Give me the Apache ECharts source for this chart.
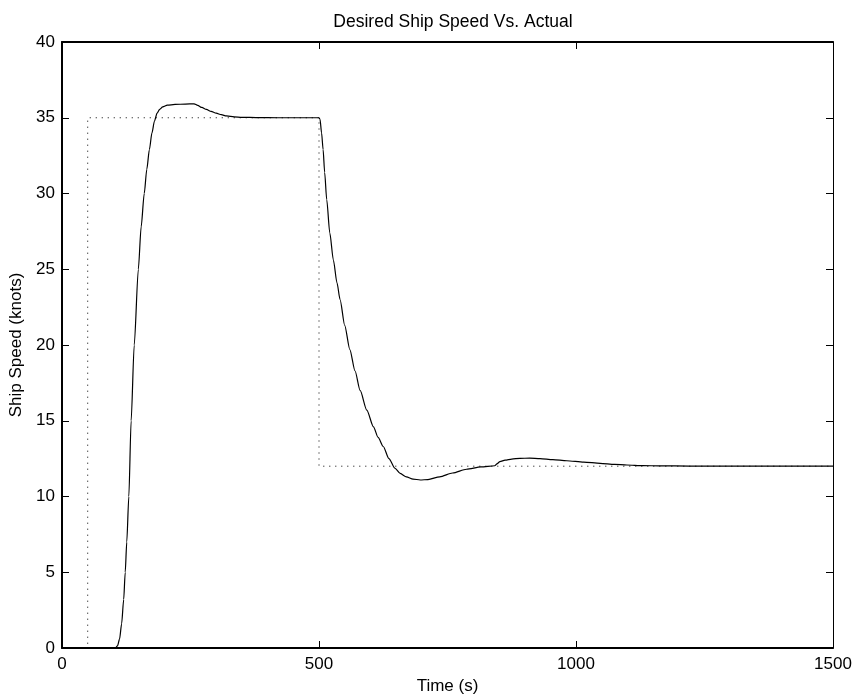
<!DOCTYPE html>
<html>
<head>
<meta charset="utf-8">
<title>Desired Ship Speed Vs. Actual</title>
<script src="https://cdn.jsdelivr.net/npm/echarts@6/dist/echarts.min.js"></script>
<style>
  html, body { margin: 0; padding: 0; background: #fff; }
  #chart { width: 856px; height: 700px; }
</style>
</head>
<body>
<div id="chart"></div>
<script>
// Commanded speed (step profile), seconds / knots
const desiredTime  = [0, 50, 50, 500, 500, 1500];
const desiredSpeed = [0, 0, 35, 35, 12, 12];

// Simulated ship speed response, seconds / knots
const actualTime = [
  0, 100, 104, 108, 112, 116, 120, 123, 126, 130, 134.5, 140.5, 148.5, 154, 160,
  165, 170, 175, 180, 185, 190, 196, 205, 220, 240, 257, 264, 272, 281, 290, 300,
  310, 320, 335, 350, 380, 420, 500,
  502, 505, 508, 511, 515, 521, 528, 535, 541, 550, 560, 570, 580, 593, 606, 615,
  625, 636, 648, 658, 670, 683, 697, 712, 735, 760, 787, 815, 842, 846, 852, 862,
  875, 891, 910, 930, 955, 982, 1015, 1047, 1075, 1099, 1130, 1163, 1220, 1300, 1500
];
const actualSpeed = [
  0, 0, 0, 0.15, 0.6, 1.6, 3.2, 5.0, 7.0, 10.0, 15.0, 20.0, 25.0, 27.8, 30.0,
  31.6, 32.9, 34.0, 34.8, 35.3, 35.55, 35.72, 35.83, 35.88, 35.9, 35.92, 35.82, 35.68, 35.55, 35.42, 35.3,
  35.2, 35.12, 35.06, 35.03, 35.01, 35.0, 35.0,
  34.9, 34.0, 32.9, 31.4, 29.6, 27.4, 25.6, 24.1, 23.0, 21.3, 19.7, 18.3, 17.0, 15.7, 14.6, 13.9,
  13.3, 12.5, 11.86, 11.52, 11.3, 11.15, 11.09, 11.12, 11.3, 11.55, 11.8, 11.95, 12.03, 12.15, 12.3, 12.4,
  12.47, 12.52, 12.53, 12.5, 12.43, 12.36, 12.27, 12.19, 12.12, 12.08, 12.04, 12.02, 12.01, 12.0, 12.0
];

const xTicks = [0, 500, 1000, 1500];
const yTicks = [0, 5, 10, 15, 20, 25, 30, 35, 40];

const FONT = '"Liberation Sans", Arial, Helvetica, sans-serif';
const pairs = (xs, ys) => xs.map((x, i) => [x, ys[i]]);

const chart = echarts.init(document.getElementById('chart'), null, { renderer: 'canvas' });

const lineCol = '#000';
const frameLine = (w) => ({ show: true, onZero: false, lineStyle: { color: lineCol, width: w } });
const tick = { show: true, inside: true, length: 7, lineStyle: { color: lineCol, width: 1 } };
const plain = (v) => String(v);

chart.setOption({
  animation: false,
  backgroundColor: '#fff',
  title: {
    text: 'Desired Ship Speed Vs. Actual',
    left: 448,
    textAlign: 'center',
    top: 8,
    textStyle: { fontFamily: FONT, fontSize: 17.5, fontWeight: 'normal', color: '#000' }
  },
  grid: { left: 62, right: 23, top: 42, bottom: 52, containLabel: false },
  xAxis: [
    {
      type: 'value', position: 'bottom',
      min: xTicks[0], max: xTicks[xTicks.length - 1], interval: xTicks[1] - xTicks[0],
      axisLine: frameLine(2), axisTick: tick,
      axisLabel: { color: '#000', fontFamily: FONT, fontSize: 17, margin: 8, formatter: plain },
      splitLine: { show: false },
      name: 'Time (s)', nameLocation: 'middle', nameGap: 27,
      nameTextStyle: { color: '#000', fontFamily: FONT, fontSize: 17 }
    },
    {
      type: 'value', position: 'top',
      min: xTicks[0], max: xTicks[xTicks.length - 1], interval: xTicks[1] - xTicks[0],
      axisLine: frameLine(2), axisTick: tick,
      axisLabel: { show: false }, splitLine: { show: false }
    }
  ],
  yAxis: [
    {
      type: 'value', position: 'left',
      min: yTicks[0], max: yTicks[yTicks.length - 1], interval: yTicks[1] - yTicks[0],
      axisLine: frameLine(2), axisTick: tick,
      axisLabel: { color: '#000', fontFamily: FONT, fontSize: 17, margin: 7, formatter: plain },
      splitLine: { show: false },
      name: 'Ship Speed (knots)', nameLocation: 'middle', nameGap: 34,
      nameTextStyle: { color: '#000', fontFamily: FONT, fontSize: 17 }
    },
    {
      type: 'value', position: 'right',
      min: yTicks[0], max: yTicks[yTicks.length - 1], interval: yTicks[1] - yTicks[0],
      axisLine: frameLine(1), axisTick: tick,
      axisLabel: { show: false }, splitLine: { show: false }
    }
  ],
  series: [
    {
      name: 'Desired', type: 'line',
      xAxisIndex: 0, yAxisIndex: 0,
      data: pairs(desiredTime, desiredSpeed),
      showSymbol: false, symbol: 'none',
      lineStyle: { color: '#000', width: 1, type: [1, 5] },
      z: 2
    },
    {
      name: 'Actual', type: 'line',
      xAxisIndex: 0, yAxisIndex: 0,
      data: pairs(actualTime, actualSpeed),
      showSymbol: false, symbol: 'none',
      smooth: 0.25, smoothMonotone: 'x',
      lineStyle: { color: '#000', width: 1.2 },
      z: 3
    }
  ]
});
</script>
</body>
</html>
